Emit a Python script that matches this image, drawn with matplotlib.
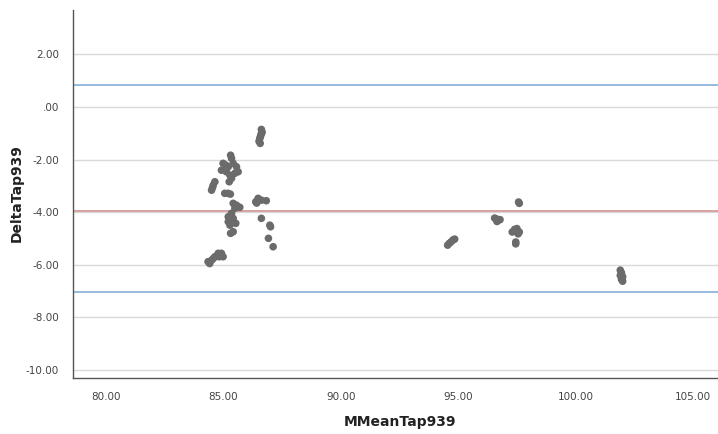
import matplotlib
matplotlib.use("Agg")
import matplotlib.pyplot as plt

# Data
mean_x = [86.62, 86.65, 86.60, 86.58, 86.55, 86.52, 86.57, 86.63,
          85.31, 85.35, 84.99, 85.11, 85.21, 85.42, 85.56, 85.63, 84.92, 85.13, 85.28, 85.49, 85.25, 85.35,
          84.64, 84.57, 84.50, 84.54,
          85.06, 85.20, 85.30,
          86.38, 86.48, 86.62, 86.83, 86.42,
          85.42, 85.56, 85.70, 85.49,
          85.35, 85.21, 85.42, 85.21, 85.53, 85.28, 85.31, 85.42,
          86.62, 86.98, 87.01, 86.92, 87.12,
          84.35, 84.50, 84.42, 84.64, 84.78, 84.92, 84.99, 84.82, 84.57,
          94.55, 94.62, 94.70, 94.78, 94.85,
          96.55, 96.62, 96.70, 96.78, 96.65,
          97.57, 97.60,
          97.30, 97.40, 97.50, 97.60, 97.55, 97.45, 97.45,
          101.90, 101.95, 102.00, 101.95, 102.00, 101.90]
delta_y = [-0.85, -0.95, -1.05, -1.12, -1.20, -1.30, -1.38, -1.00,
           -1.83, -1.95, -2.14, -2.21, -2.27, -2.14, -2.27, -2.46, -2.40, -2.46, -2.59, -2.52, -2.84, -2.71,
           -2.84, -2.97, -3.16, -3.06,
           -3.28, -3.28, -3.31,
           -3.60, -3.47, -3.54, -3.56, -3.65,
           -3.66, -3.73, -3.81, -3.85,
           -4.04, -4.17, -4.23, -4.36, -4.42, -4.49, -4.80, -4.74,
           -4.23, -4.49, -4.55, -4.99, -5.31,
           -5.88, -5.82, -5.95, -5.69, -5.56, -5.56, -5.69, -5.69, -5.76,
           -5.25, -5.18, -5.12, -5.05, -5.02,
           -4.22, -4.25, -4.30, -4.28, -4.35,
           -3.61, -3.66,
           -4.75, -4.65, -4.62, -4.75, -4.82, -5.13, -5.20,
           -6.20, -6.30, -6.45, -6.55, -6.62, -6.40]
mean_diff = -3.97
upper_loa = 0.84
lower_loa = -7.02
y_ticks = [2, 0, -2, -4, -6, -8, -10]
y_tick_labels = ["2.00", ".00", "-2.00", "-4.00", "-6.00", "-8.00", "-10.00"]
x_ticks = [80, 85, 90, 95, 100, 105]
x_tick_labels = ["80.00", "85.00", "90.00", "95.00", "100.00", "105.00"]

fig = plt.figure(figsize=(7.18, 4.34), dpi=100)
ax = fig.add_axes([73/718, 1-378/434, 1-73/718, 368/434])
ax.set_xlim(78.6, 106.06)
ax.set_ylim(-10.3, 3.69)

for t in y_ticks:
    ax.axhline(t, color="#d9d9d9", lw=1.0, zorder=1)
ax.axhline(upper_loa, color="#8fb4dc", lw=1.3, zorder=2)
ax.axhline(lower_loa, color="#8fb4dc", lw=1.3, zorder=2)
ax.axhline(mean_diff, color="#d49a9a", lw=1.3, zorder=2)

ax.scatter(mean_x, delta_y, s=30, color="#6b6b6b", edgecolors="none", zorder=3)

ax.set_yticks(y_ticks)
ax.set_yticklabels(y_tick_labels)
ax.set_xticks(x_ticks)
ax.set_xticklabels(x_tick_labels)
ax.tick_params(length=0, labelsize=7.5, labelcolor="#444444", pad=10)
for s in ["top", "right"]:
    ax.spines[s].set_visible(False)
for s in ["left", "bottom"]:
    ax.spines[s].set_color("#555555")
    ax.spines[s].set_linewidth(1.0)

fig.text(17/718, 1-193/434, "DeltaTap939", rotation=90, ha="center", va="center",
         fontsize=10, fontweight="bold", color="#222222")
fig.text(400/718, 1-422/434, "MMeanTap939", ha="center", va="center",
         fontsize=10, fontweight="bold", color="#222222")

fig.savefig("out.png", dpi=100)
